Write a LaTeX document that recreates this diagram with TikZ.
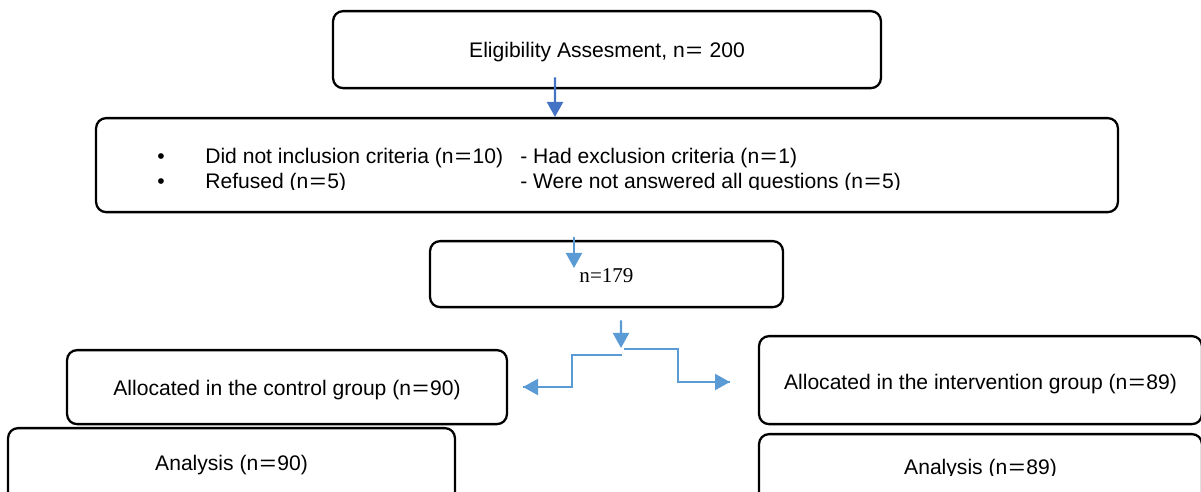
\documentclass[tikz,border=0pt]{standalone}
\usepackage{fontspec}
\usepackage{graphicx}
\setmainfont{Liberation Sans}
\newfontfamily\timesfont{Liberation Serif}
\usetikzlibrary{arrows.meta}

\definecolor{arrowdark}{HTML}{4472C4}
\definecolor{arrowlight}{HTML}{5B9BD5}
\newcommand{\eqs}{\makebox[0.9em]{\scalebox{1.35}[1]{=}}}

\begin{document}
\begin{tikzpicture}[
			x = 0.02cm, y = -0.02cm,
			every node/.style = {font=\fontsize{12}{13.9}\selectfont},
			box/.style = {draw, line width=1.3pt, rounded corners=0.2cm, inner sep=0pt, anchor=north},
			flow/.style = {line width=1.2pt, arrowlight, -{Triangle[width=0.32cm,length=0.3cm]}},
			link/.style = {line width=1.2pt, arrowlight}
		]

			\useasboundingbox (0,0) rectangle (1201,492);
			\clip (0,0) rectangle (1201,492);

			\node[box, minimum width=10.96cm, text height=0.92cm, text depth=0.62cm] (screen) at (607,10) {Eligibility Assesment, n\eqs{} 200};

			\node[box, minimum width=20.44cm, minimum height=1.88cm] (excl) at (607,117) {};
			\begin{scope}
				\clip (96,117) rectangle (1118,189.5);
				\node[anchor=base west, inner sep=0pt] (exclText) at (157,164) {\setlength{\tabcolsep}{0pt}%
					\begin{tabular}[t]{@{}p{0.96cm}p{6.3cm}l@{}}
						\textbullet & Did not inclusion criteria (n\eqs10) & - Had exclusion criteria (n\eqs1)\\
						\textbullet & Refused (n\eqs5) & - Were not answered all questions (n\eqs5)
					\end{tabular}};
			\end{scope}

			\node[box, minimum width=7.06cm, text height=0.82cm, text depth=0.5cm, font=\timesfont\fontsize{12}{14}\selectfont] (total) at (606.5,240) {n=179};

			\node[box, minimum width=8.8cm, text height=0.9cm, text depth=0.58cm] (ctrl) at (287,349) {Allocated in the control group (n\eqs90)};
			\node[box, minimum width=8.94cm, text height=0.84cm, text depth=1.22cm] (ctrlAn) at (231.5,427) {Analysis (n\eqs90)};

			\node[box, minimum width=8.86cm, text height=1.06cm, text depth=0.7cm] (interv) at (980.5,335) {Allocated in the intervention group (n\eqs89)};
			\node[box, minimum width=8.86cm, minimum height=1.94cm] (intervAn) at (980.5,433) {};
			\begin{scope}
				\clip (759,433) rectangle (1201,475.5);
				\node[anchor=base, inner sep=0pt] (intervAnText) at (980.5,474.5) {Analysis (n\eqs89)};
			\end{scope}

			\coordinate (split) at (621,348);
			\coordinate (splitL) at (622,355);
			\coordinate (splitR) at (624,349);
			\coordinate (toCtrl) at (523,387);
			\coordinate (toInterv) at (730,382);

			\draw[flow, arrowdark] ([shift={(-52,-12)}]screen.south) -- ([xshift=-1.04cm]excl.north);
			\draw[flow] ([shift={(-32.5,-3)}]total.north) -- ([shift={(-32.5,28)}]total.north);
			\draw[flow] ([shift={(14.5,12)}]total.south) -- (split);

			\draw[link] (splitL) -- ++(-50,0) |- (toCtrl);
			\draw[flow] ([xshift=1pt]toCtrl) -- (toCtrl);
			\draw[link] (splitR) -- ++(54,0) |- (toInterv);
			\draw[flow] ([xshift=-1pt]toInterv) -- (toInterv);

		\end{tikzpicture}
\end{document}
